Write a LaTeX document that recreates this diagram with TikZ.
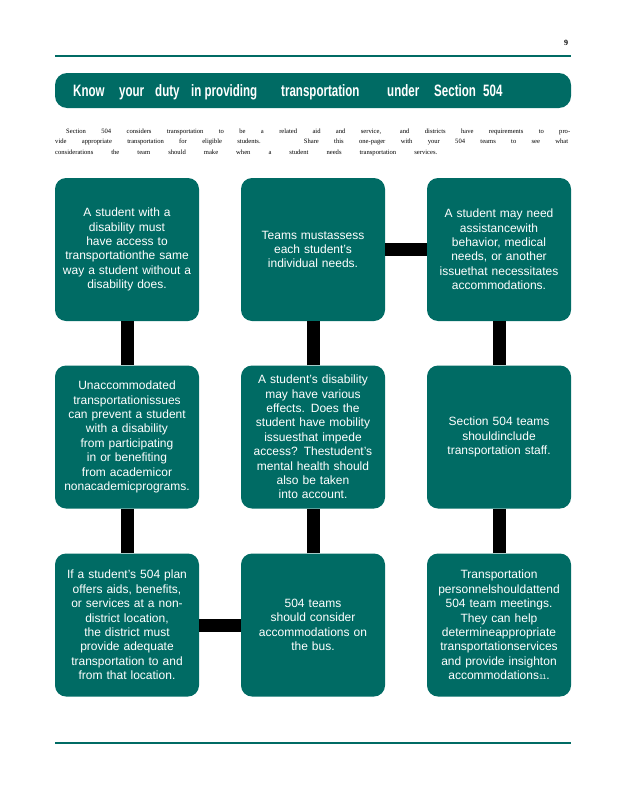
\documentclass[tikz,border=0pt]{standalone}
\usepackage{fontspec}
\usepackage{graphicx}
\setmainfont{Liberation Sans}
\newfontfamily\serifp{Liberation Serif}
\definecolor{teal504}{HTML}{006B64}
\newcommand\tword[1]{\scalebox{0.7}[1]{#1}}
\begin{document}
\begin{tikzpicture}[x=1pt,y=-1pt,
  card/.style={fill=teal504, rounded corners=11pt, minimum width=144pt, minimum height=143pt,
    inner sep=0pt, text width=142pt, align=center, text=white,
    font=\fontsize{12}{14.4}\selectfont},
  conn/.style={line width=13pt, draw=black},
  rulebar/.style={draw=teal504, line width=2.5pt},
  ttl/.style={text=white, anchor=base west, inner sep=0pt, font=\bfseries\fontsize{16.5}{16.5}\selectfont},
  para/.style={anchor=base west, inner sep=0pt, font=\serifp\fontsize{6.6}{7}\selectfont}]
\useasboundingbox (0,0) rectangle (618,800);

% page number and rules
\node[font=\serifp\bfseries\fontsize{8}{8}\selectfont, inner sep=0pt] (pnum) at (566,43) {9};
\coordinate (r1a) at (55,56); \coordinate (r1b) at (571,56);
\coordinate (r2a) at (55,743); \coordinate (r2b) at (571,743);
\draw[rulebar] (r1a) -- (r1b);
\draw[rulebar] (r2a) -- (r2b);

% title banner
\node[fill=teal504, rounded corners=12pt, minimum width=516pt, minimum height=35pt, inner sep=0pt] (banner) at (313,90.5) {};
\foreach \px/\tw [count=\i] in {73/Know,119/your,155/duty,191/in providing,281/transportation,387/under,434/Section,483/504}
  \node[ttl] (t\i) at (\px,96) {\tword{\tw}};

% intro paragraph
\node[para] (p1) at (66,133) {\makebox[504pt][s]{Section 504 considers transportation to be a related aid and service, and districts have requirements to pro-}};
\node[para] (p2) at (55,143.5) {\makebox[513pt][s]{vide appropriate transportation for eligible students. Share this one-pager with your 504 teams to see what}};
\node[para] (p3) at (55,154) {\makebox[382pt][s]{considerations the team should make when a student needs transportation services.}};

% cards
\node[card] (b1) at (127,249.5) {A student with a\\disability must\\have access to\\transportationthe same\\way a student without a\\disability does.};
\node[card] (b2) at (313,249.5) {Teams mustassess\\each student’s\\individual needs.};
\node[card] (b3) at (499,249.5) {A student may need\\assistancewith\\behavior, medical\\needs, or another\\issuethat necessitates\\accommodations.};
\node[card] (b4) at (127,437) {Unaccommodated\\transportationissues\\can prevent a student\\with a disability\\from participating\\in or benefiting\\from academicor\\nonacademicprograms.};
\node[card] (b5) at (313,437) {A student’s disability\\may have various\\effects. Does the\\student have mobility\\issuesthat impede\\access? Thestudent’s\\mental health should\\also be taken\\into account.};
\node[card] (b6) at (499,437) {Section 504 teams\\shouldinclude\\transportation staff.};
\node[card] (b7) at (127,625) {If a student’s 504 plan\\offers aids, benefits,\\or services at a non-\\district location,\\the district must\\provide adequate\\transportation to and\\from that location.};
\node[card] (b8) at (313,625) {504 teams\\should consider\\accommodations on\\the bus.};
\node[card] (b9) at (499,625) {Transportation\\personnelshouldattend\\504 team meetings.\\They can help\\determineappropriate\\transportationservices\\and provide insighton\\accommodations{\fontsize{7}{7}\selectfont 11}.};

% connectors
\draw[conn] (b1.south) -- (b4.north);
\draw[conn] (b4.south) -- (b7.north);
\draw[conn] (b7.east) -- (b8.west);
\draw[conn] (b8.north) -- (b5.south);
\draw[conn] (b5.north) -- (b2.south);
\draw[conn] (b2.east) -- (b3.west);
\draw[conn] (b3.south) -- (b6.north);
\draw[conn] (b6.south) -- (b9.north);
\end{tikzpicture}
\end{document}
